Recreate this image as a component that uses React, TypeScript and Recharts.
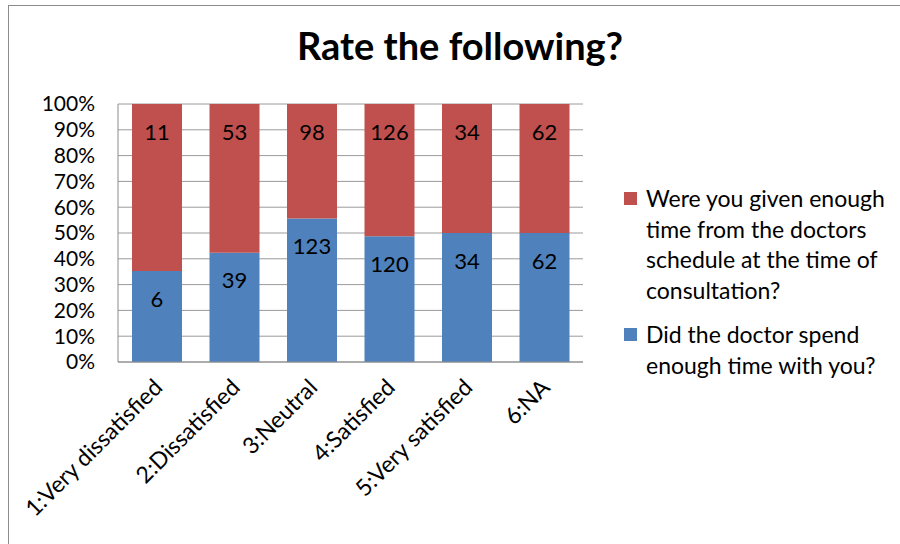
import React from 'react';
import { BarChart, Bar, XAxis, YAxis, CartesianGrid, LabelList } from 'recharts';

const categories = ['1:Very dissatisfied', '2:Dissatisfied', '3:Neutral', '4:Satisfied', '5:Very satisfied', '6:NA'];
const spendTime = [6, 39, 123, 120, 34, 62];
const givenTime = [11, 53, 98, 126, 34, 62];
const yTicks = [0, 0.1, 0.2, 0.3, 0.4, 0.5, 0.6, 0.7, 0.8, 0.9, 1];

const SPEND_LABEL = 'Did the doctor spend enough time with you?';
const GIVEN_LABEL = 'Were you given enough time from the doctors schedule at the time of consultation?';

const BLUE = '#4f81bd';
const RED = '#c0504d';
const FONT = 'Lato, "Open Sans", sans-serif';

const data = categories.map((name, i) => ({ name, spend: spendTime[i], given: givenTime[i] }));

const CategoryTick = (props: any) => {
  const { x, y, payload } = props;
  const ax = x + 7;
  const ay = y + 19;
  return (
    <text
      x={ax}
      y={ay}
      textAnchor="end"
      transform={`rotate(-45, ${ax}, ${ay})`}
      fontSize={23}
      fontFamily={FONT}
      fill="#000"
    >
      {payload.value}
    </text>
  );
};

// legend lists the top segment first
const legendItems = [
  { label: GIVEN_LABEL, color: RED },
  { label: SPEND_LABEL, color: BLUE },
];

export default function App() {
  return (
    <div style={{ position: 'absolute', left: 0, top: 0, width: 900, height: 544, background: '#fff', overflow: 'hidden' }}>
      <div style={{ position: 'absolute', left: 8, top: 5, right: 0, bottom: 0, borderTop: '1.5px solid #8c8c8c', borderLeft: '1.5px solid #8c8c8c' }} />
      <div
        style={{
          position: 'absolute', left: 0, top: 22, width: 920, textAlign: 'center',
          fontFamily: FONT, fontWeight: 700, fontSize: 38, color: '#000',
        }}
      >
        Rate the following?
      </div>
      <BarChart
        width={900}
        height={544}
        data={data}
        stackOffset="expand"
        margin={{ top: 104, right: 317, bottom: 0, left: 0 }}
        style={{ position: 'absolute', left: 0, top: 0 }}
      >
        <CartesianGrid vertical={false} stroke="#9a9a9a" />
        <XAxis
          dataKey="name"
          height={182}
          interval={0}
          stroke="#8c8c8c"
          tickLine={false}
          tick={<CategoryTick />}
        />
        <YAxis
          width={118}
          domain={[0, 1]}
          ticks={yTicks}
          interval={0}
          tickFormatter={(v: number) => `${Math.round(v * 100)}%`}
          stroke="#8c8c8c"
          tickLine={false}
          tickSize={0}
          tickMargin={23}
          tick={{ fontSize: 21, fill: '#000', fontFamily: FONT }}
        />
        <Bar dataKey="spend" name={SPEND_LABEL} stackId="a" fill={BLUE} barSize={50} isAnimationActive={false}>
          <LabelList dataKey="spend" position="insideTop" offset={20} fill="#000" fontSize={22} fontFamily={FONT} />
        </Bar>
        <Bar dataKey="given" name={GIVEN_LABEL} stackId="a" fill={RED} barSize={50} isAnimationActive={false}>
          <LabelList dataKey="given" position="insideTop" offset={20} fill="#000" fontSize={22} fontFamily={FONT} />
        </Bar>
      </BarChart>
      <div
        style={{
          position: 'absolute', left: 624, top: 183,
          fontFamily: FONT, fontSize: 23, lineHeight: '30.5px', color: '#000',
        }}
      >
        {legendItems.map((item) => (
          <div key={item.label} style={{ display: 'flex', alignItems: 'flex-start', marginBottom: 14 }}>
            <span style={{ width: 13, height: 13, background: item.color, marginTop: 9, marginRight: 9, flex: 'none' }} />
            <span style={{ width: 250 }}>{item.label}</span>
          </div>
        ))}
      </div>
    </div>
  );
}
